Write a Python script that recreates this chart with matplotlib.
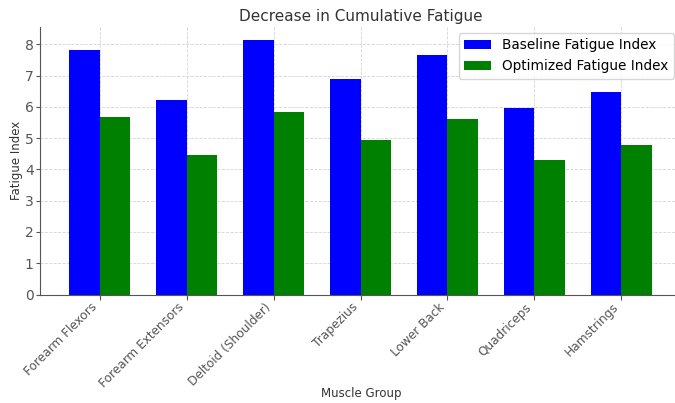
import matplotlib
matplotlib.use("Agg")
import matplotlib.pyplot as plt
import numpy as np

muscles = ["Forearm Flexors", "Forearm Extensors", "Deltoid (Shoulder)", "Trapezius",
           "Lower Back", "Quadriceps", "Hamstrings"]
baseline = [7.82, 6.23, 8.15, 6.90, 7.67, 5.98, 6.48]
optimized = [5.68, 4.45, 5.84, 4.95, 5.63, 4.31, 4.78]

W, H = 675, 403
fig = plt.figure(figsize=(W / 100, H / 100), dpi=100)
ax = fig.add_axes([40 / W, (H - 294.5) / H, 641 / W, 267.5 / H])
x = np.arange(len(muscles))
w = 0.35
ax.bar(x - w / 2, baseline, w, color="blue", label="Baseline Fatigue Index")
ax.bar(x + w / 2, optimized, w, color="green", label="Optimized Fatigue Index")

txt = "#333333"
ax.set_title("Decrease in Cumulative Fatigue", color=txt, fontsize=11, pad=4)
ax.set_xlabel("Muscle Group", color=txt, fontsize=8.5)
ax.set_ylabel("Fatigue Index", color=txt, fontsize=8.5)
ax.xaxis.set_label_coords((361 - 40) / 641, -0.345)
ax.yaxis.set_label_coords(-0.027, 0.5)
ax.set_xticks(x)
ax.set_xticklabels(muscles, rotation=45, ha="right", fontsize=8.7, color=txt)
ax.tick_params(axis="y", labelsize=10, labelcolor=txt, pad=1.5, length=3)
ax.tick_params(axis="x", pad=1)
ax.tick_params(colors="#555555")
ax.grid(True, linestyle="--", linewidth=0.6, color="#d5d5d5")
ax.set_axisbelow(True)
for s in ["top", "right"]:
    ax.spines[s].set_visible(False)
for s in ["left", "bottom"]:
    ax.spines[s].set_color("#555555")
ax.legend(loc="upper right", fontsize=9.8, borderaxespad=0,
          bbox_to_anchor=((674 - 40) / 641, (294.5 - 33) / 267.5))
fig.savefig("out.png", dpi=100)
